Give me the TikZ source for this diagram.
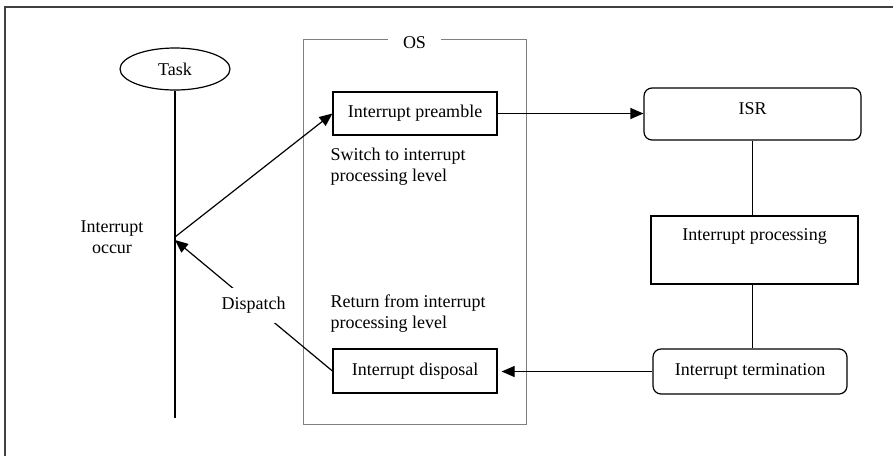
\documentclass[tikz,border=0pt]{standalone}
\usepackage{fontspec}
\setmainfont{Liberation Serif}
\usetikzlibrary{positioning,arrows.meta,shapes.geometric}

\begin{document}
\begin{tikzpicture}[x=1pt,y=-1pt,
  every node/.style={font=\fontsize{18}{21}\selectfont},
  box/.style={draw,line width=1.2pt,inner sep=0pt},
  rbox/.style={box,rounded corners=8pt},
  arr/.style={-{Triangle[length=13pt,width=11pt]},line width=1.2pt},
  plain/.style={line width=1.2pt}]
  \useasboundingbox (0,0) rectangle (893,456);

  % Draw the frame
  \draw[line width=1.8pt,black!75] (5,456) -- (5,7) -- (893,7);

  % Draw the task and its time line
  \node[draw,ellipse,line width=1.2pt,minimum width=110pt,minimum height=42pt,inner sep=0pt] (task) at (175,69) {Task};
  \coordinate (taskend) at (175,418);
  \coordinate (occ) at (175,237);
  \coordinate (back) at (175,240);
  \draw[plain] (task.south) -- (taskend);
  \node[align=center] (occtxt) at (112,237) {Interrupt\\occur};

  % Draw the OS box
  \node[draw=gray,line width=1pt,minimum width=223pt,minimum height=385pt,inner sep=0pt] (os) at (414.5,231.5) {};
  \node[fill=white,inner xsep=15pt,inner ysep=2pt,yshift=-4pt] (oslabel) at (os.north) {OS};

  % Draw the boxes
  \node[box,minimum width=164pt,minimum height=43pt] (pre) at (415,113.5) {Interrupt preamble};
  \node[box,minimum width=164pt,minimum height=44pt] (disp) at (415,371) {Interrupt disposal};
  \node[rbox,minimum width=217pt,minimum height=52pt,text height=13pt,text depth=13pt] (isr) at (752.5,114) {ISR};
  \node[box,minimum width=207pt,minimum height=68pt,text height=13pt,text depth=33pt] (proc) at (754.5,250) {Interrupt processing};
  \node[rbox,minimum width=194pt,minimum height=45pt] (term) at (750,371.5) {Interrupt termination};

  % Draw the level texts
  \node[align=left,inner sep=0pt,below right=12pt and -2pt of pre.south west] (swtxt) {Switch to interrupt\\processing level};
  \node[align=left,inner sep=0pt,above right=16pt and -2pt of disp.north west] (rettxt) {Return from interrupt\\processing level};

  % Draw the arrows
  \draw[arr] (occ) -- (pre.west);
  \draw[arr] (disp.west) -- (back) node[midway,fill=white,inner sep=9pt] (dsp) {Dispatch};
  \draw[arr] (pre.east) -- (pre.east -| isr.west);
  \draw[arr,shorten >=4pt] (term.west) -- (term.west -| disp.east);
  \draw[plain] (isr.south) -- (isr.south |- proc.north);
  \draw[plain] (proc.south -| isr.south) -- (term.north -| isr.south);

\end{tikzpicture}
\end{document}
